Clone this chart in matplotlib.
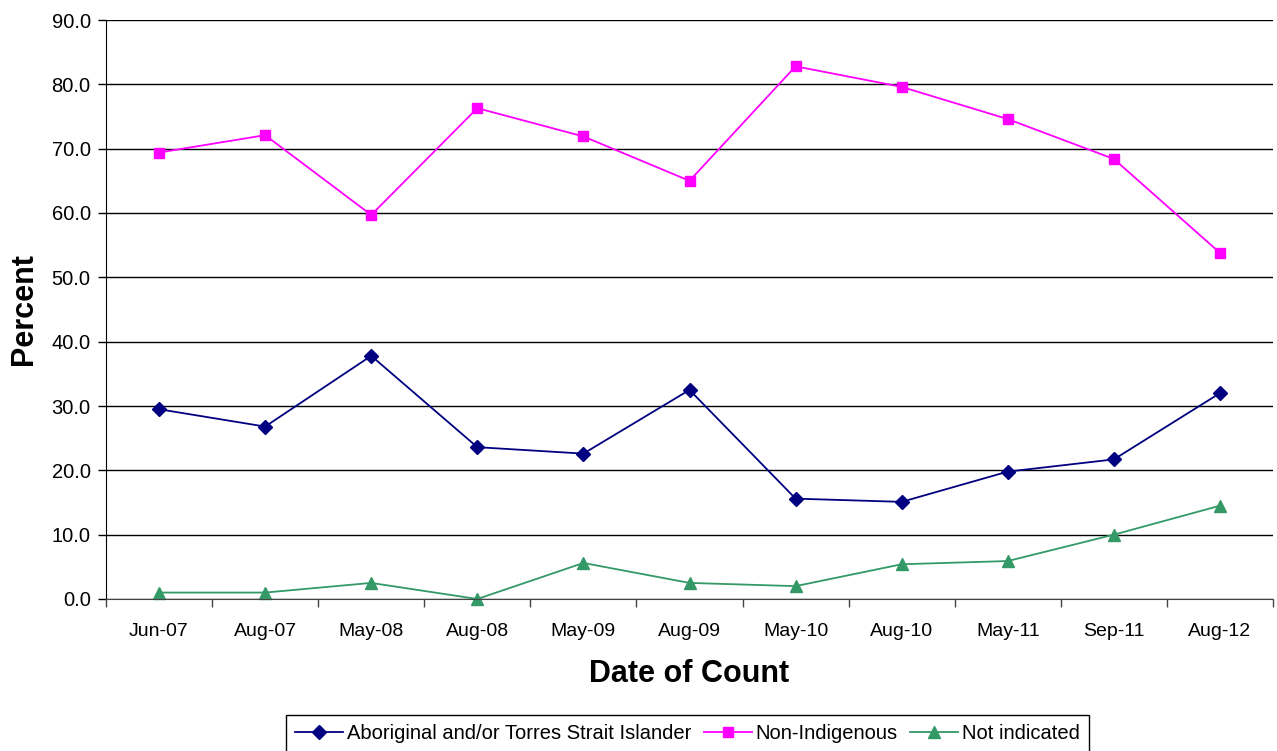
import matplotlib
matplotlib.use("Agg")
import matplotlib.pyplot as plt
import numpy as np

categories = ["Jun-07", "Aug-07", "May-08", "Aug-08", "May-09", "Aug-09",
              "May-10", "Aug-10", "May-11", "Sep-11", "Aug-12"]
aboriginal = [29.5, 26.8, 37.8, 23.6, 22.6, 32.5, 15.6, 15.1, 19.8, 21.7, 32.0]
non_indigenous = [69.4, 72.1, 59.7, 76.3, 71.9, 65.0, 82.8, 79.6, 74.6, 68.4, 53.8]
not_indicated = [1.0, 1.0, 2.5, 0.0, 5.6, 2.5, 2.0, 5.4, 5.9, 10.0, 14.5]
yticks = [0, 10, 20, 30, 40, 50, 60, 70, 80, 90]

plt.rcParams['font.family'] = ['Liberation Sans', 'DejaVu Sans']

fig = plt.figure(figsize=(12.77, 7.51), dpi=100)
ax = fig.add_axes([106/1277, 1 - 599/751, (1273 - 106)/1277, (599 - 20)/751])

x = np.arange(len(categories))
l1, = ax.plot(x, aboriginal, color='#000080', marker='D', markersize=7, lw=1.3,
              label='Aboriginal and/or Torres Strait Islander')
l2, = ax.plot(x, non_indigenous, color='#FF00FF', marker='s', markersize=7, lw=1.3,
              label='Non-Indigenous')
l3, = ax.plot(x, not_indicated, color='#339966', marker='^', markersize=9, lw=1.3,
              label='Not indicated')
for l in (l1, l2, l3):
    l.set_clip_on(False)

ax.set_xlim(-0.5, len(categories) - 0.5)
ax.set_ylim(0, 90)
ax.set_yticks(yticks)
ax.set_yticklabels([f"{v:.1f}" for v in yticks], fontsize=14.5)
ax.yaxis.grid(True, color='black', lw=1.0)
ax.set_axisbelow(True)

ax.set_xticks(x)
ax.set_xticklabels(categories, fontsize=14)
ax.set_xticks(np.arange(-0.5, len(categories), 1.0), minor=True)
ax.tick_params(axis='x', which='major', length=0, pad=17)
ax.tick_params(axis='x', which='minor', length=6, width=1, color='#444444', direction='out')
ax.tick_params(axis='y', length=6, width=1, direction='out', pad=5)

for s in ('top', 'right'):
    ax.spines[s].set_visible(False)
ax.spines['left'].set_color('black')
ax.spines['bottom'].set_color('#444444')

ax.set_xlabel('Date of Count', fontsize=22, fontweight='bold', labelpad=14)
ax.set_ylabel('Percent', fontsize=22, fontweight='bold', labelpad=9)

leg = fig.legend(handles=[l1, l2, l3], loc='upper center',
                 bbox_to_anchor=(687.5/1277, 1 - 715/751), ncol=3, fontsize=14.5,
                 frameon=True, fancybox=False, edgecolor='black', framealpha=1,
                 handlelength=2.4, handletextpad=0.2, columnspacing=0.6,
                 borderpad=0.45, borderaxespad=0)
leg.get_frame().set_linewidth(1.0)

fig.savefig('out.png', dpi=100)
